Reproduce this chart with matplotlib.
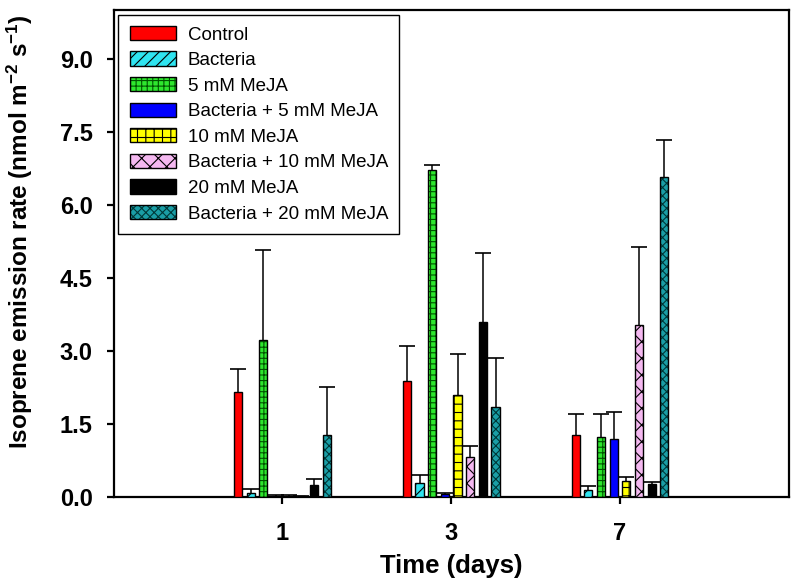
import numpy as np
import matplotlib
matplotlib.use("Agg")
import matplotlib.pyplot as plt

plt.rcParams['font.family'] = ['Liberation Sans', 'DejaVu Sans']
plt.rcParams['mathtext.fontset'] = 'custom'
plt.rcParams['mathtext.rm'] = 'Liberation Sans'
plt.rcParams['mathtext.default'] = 'regular'
plt.rcParams['hatch.linewidth'] = 0.8

# data
days = ["1", "3", "7"]
treatments = ["Control", "Bacteria", "5 mM MeJA", "Bacteria + 5 mM MeJA",
              "10 mM MeJA", "Bacteria + 10 mM MeJA", "20 mM MeJA",
              "Bacteria + 20 mM MeJA"]
# rows = treatments, columns = days
means = [
    [2.15, 2.38, 1.26],
    [0.08, 0.29, 0.14],
    [3.22, 6.72, 1.22],
    [0.02, 0.05, 1.19],
    [0.02, 2.09, 0.33],
    [0.01, 0.81, 3.53],
    [0.24, 3.59, 0.26],
    [1.27, 1.84, 6.56],
]
errors = [
    [0.48, 0.71, 0.44],
    [0.07, 0.16, 0.07],
    [1.84, 0.10, 0.47],
    [0.01, 0.03, 0.54],
    [0.01, 0.84, 0.07],
    [0.01, 0.24, 1.60],
    [0.12, 1.42, 0.05],
    [0.99, 1.01, 0.76],
]

# style per treatment: face colour, hatch, hatch colour
face = ['#ff0000', '#2fe4f0', '#2ee62e', '#0000ff', '#ffff00', '#f4b8f0', '#000000', '#1a9ea6']
hatches = ['', '///', '+++', '', '++', 'xx', '', 'xxxx']
hatch_col = ['#ff0000', '#000000', '#005500', '#0000ff', '#000000', '#000000', '#000000', '#003838']

fig = plt.figure(figsize=(8, 5.85), dpi=100)
ax = fig.add_axes([0.142, 0.151, 0.844, 0.832])

x = np.arange(1, len(days) + 1)
pitch = 0.075
width = 0.048

handles = []
for i, name in enumerate(treatments):
    xs = x + (i - 3.5) * pitch
    m = np.array(means[i])
    e = np.array(errors[i])
    # upper error bar only, with a cap on top
    ax.errorbar(xs, m, yerr=[np.zeros_like(e), e], fmt='none', ecolor='black',
                elinewidth=1.1, capsize=0, zorder=2)
    ax.plot(xs, m + e, ls='none', marker='_', ms=11, mew=1.2, color='black', zorder=2)
    b1 = ax.bar(xs, m, width, color=face[i], hatch=hatches[i],
                edgecolor=hatch_col[i], linewidth=0, zorder=3)
    b2 = ax.bar(xs, m, width, fill=False, edgecolor='black', linewidth=1.0, zorder=4)
    handles.append((b1[0], b2[0]))

ax.set_xlim(0, 4)
ax.set_ylim(0, 10)
ax.set_xticks(x)
ax.set_xticklabels(days)
ax.set_yticks([0, 1.5, 3.0, 4.5, 6.0, 7.5, 9.0])
ax.set_yticklabels(["0.0", "1.5", "3.0", "4.5", "6.0", "7.5", "9.0"])

for sp in ax.spines.values():
    sp.set_linewidth(1.6)
ax.tick_params(axis='both', direction='out', length=5, width=1.6,
               labelsize=17)
ax.tick_params(axis='x', pad=13)
ax.tick_params(axis='y', pad=10)
for lab in ax.get_xticklabels() + ax.get_yticklabels():
    lab.set_fontweight('bold')

ax.set_xlabel("Time (days)", fontsize=18.5, fontweight='bold', labelpad=7)
ax.set_ylabel("Isoprene emission rate (nmol m$^{-2}$ s$^{-1}$)",
              fontsize=17.5, fontweight='bold')
ax.yaxis.set_label_coords(-0.116, 0.545)

leg = ax.legend(handles, treatments, loc='upper left', fontsize=13.5,
                fancybox=False, framealpha=1, edgecolor='black',
                borderaxespad=0.25, handlelength=2.5, handleheight=0.8,
                handletextpad=0.6, labelspacing=0.42, borderpad=0.6)
leg.get_frame().set_linewidth(1.0)

fig.savefig("out.png", dpi=100)
